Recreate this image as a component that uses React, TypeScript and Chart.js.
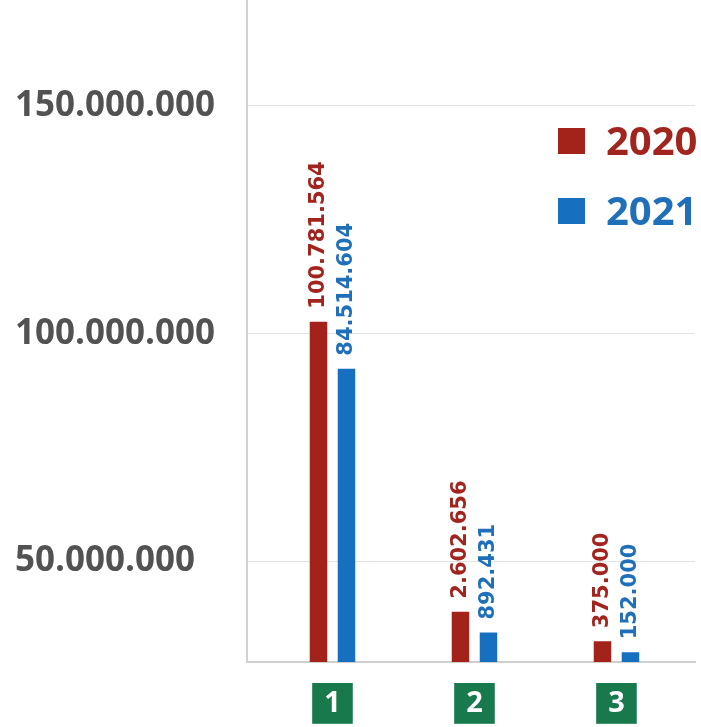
import React, { useEffect, useRef } from 'react';
import { Chart, registerables } from 'chart.js';

Chart.register(...registerables);

// categories on the x axis
const categories = ['1', '2', '3'];
const seriesNames = ['2020', '2021'];
// bar heights as drawn against the y axis (the infographic is not to scale)
const bars2020 = [102600000, 38970000, 32500000];
const bars2021 = [92300000, 34400000, 30060000];
// printed values above the bars
const values2020 = [100781564, 2602656, 375000];
const values2021 = [84514604, 892431, 152000];
// y tick values
const yTicks = [50000000, 100000000, 150000000];

const RED = '#a3221a';
const BLUE = '#1670bf';
const RED_TEXT = '#a1241e';
const BLUE_TEXT = '#1f6fb9';
const GREEN = '#187a4c';

const fmt = (n: number) => String(Math.round(n)).replace(/\B(?=(\d{3})+(?!\d))/g, '.');

const printed = [values2020, values2021];
const labelColors = [RED_TEXT, BLUE_TEXT];

const valueLabels = {
  id: 'valueLabels',
  afterDatasetsDraw(chart: any) {
    const ctx = chart.ctx;
    chart.data.datasets.forEach((ds: any, di: number) => {
      const meta = chart.getDatasetMeta(di);
      meta.data.forEach((bar: any, i: number) => {
        ctx.save();
        ctx.translate(bar.x, bar.y - 13);
        ctx.rotate(-Math.PI / 2);
        ctx.font = 'bold 21px "DejaVu Sans"';
        ctx.fillStyle = labelColors[di];
        ctx.textAlign = 'left';
        ctx.textBaseline = 'middle';
        ctx.fillText(fmt(printed[di][i]), 0, 0);
        ctx.restore();
      });
    });
  },
};

const sideLegend = {
  id: 'sideLegend',
  afterDraw(chart: any) {
    const ctx = chart.ctx;
    const area = chart.chartArea;
    chart.data.datasets.forEach((ds: any, i: number) => {
      const top = area.top + 128 + i * 70;
      const left = area.right - 137;
      ctx.save();
      ctx.fillStyle = ds.backgroundColor;
      ctx.fillRect(left, top, 27, 26);
      ctx.font = 'bold 40px "Open Sans"';
      ctx.fillStyle = labelColors[i];
      ctx.textAlign = 'left';
      ctx.textBaseline = 'alphabetic';
      ctx.fillText(ds.label, left + 48, top + 27);
      ctx.restore();
    });
  },
};

export default function App() {
  const ref = useRef<HTMLCanvasElement | null>(null);

  useEffect(() => {
    document.body.style.margin = '0';
    if (!ref.current) return;
    const chart = new Chart(ref.current, {
      type: 'bar',
      data: {
        labels: categories,
        datasets: [
          {
            label: seriesNames[0],
            data: bars2020,
            backgroundColor: RED,
            categoryPercentage: 0.3944,
            barPercentage: 0.625,
          },
          {
            label: seriesNames[1],
            data: bars2021,
            backgroundColor: BLUE,
            categoryPercentage: 0.3944,
            barPercentage: 0.625,
          },
        ],
      },
      options: {
        responsive: false,
        animation: false,
        layout: { padding: { left: 15, right: 6, top: 0, bottom: 0 } },
        plugins: {
          legend: { display: false },
          tooltip: { enabled: false },
        },
        scales: {
          x: {
            type: 'linear',
            min: 0.398,
            max: 3.553,
            offset: false,
            afterBuildTicks: (axis: any) => {
              axis.ticks = categories.map((c) => ({ value: Number(c) }));
            },
            afterFit: (axis: any) => {
              axis.height = 65;
              axis.paddingLeft = 0;
              axis.paddingRight = 0;
            },
            grid: { display: false, drawTicks: false },
            border: { display: true, color: '#cfcfcf', width: 2 },
            ticks: {
              color: '#ffffff',
              font: { family: 'Open Sans', weight: 'bold', size: 29 },
              padding: 24,
              showLabelBackdrop: true,
              backdropColor: GREEN,
              backdropPadding: { x: 12, y: 3 },
              maxRotation: 0,
              autoSkip: false,
              callback: (v: any) => String(v),
            },
          },
          y: {
            min: 27930000,
            max: 173200000,
            afterBuildTicks: (axis: any) => {
              axis.ticks = yTicks.map((v) => ({ value: v }));
            },
            afterFit: (axis: any) => {
              axis.width = 232;
              axis.paddingTop = 0;
              axis.paddingBottom = 0;
            },
            grid: { color: '#e4e4e4', lineWidth: 1, drawTicks: false },
            border: { display: true, color: '#d2d2d2', width: 2 },
            ticks: {
              crossAlign: 'far',
              color: '#525252',
              padding: 0,
              font: { family: 'Open Sans', weight: 'bold', size: 35 },
              callback: (v: any) => fmt(Number(v)),
            },
          },
        },
      },
      plugins: [valueLabels, sideLegend],
    } as any);
    return () => chart.destroy();
  }, []);

  return (
    <div style={{ width: 701, height: 727 }}>
      <canvas ref={ref} width={701} height={727} style={{ display: 'block' }} />
    </div>
  );
}
